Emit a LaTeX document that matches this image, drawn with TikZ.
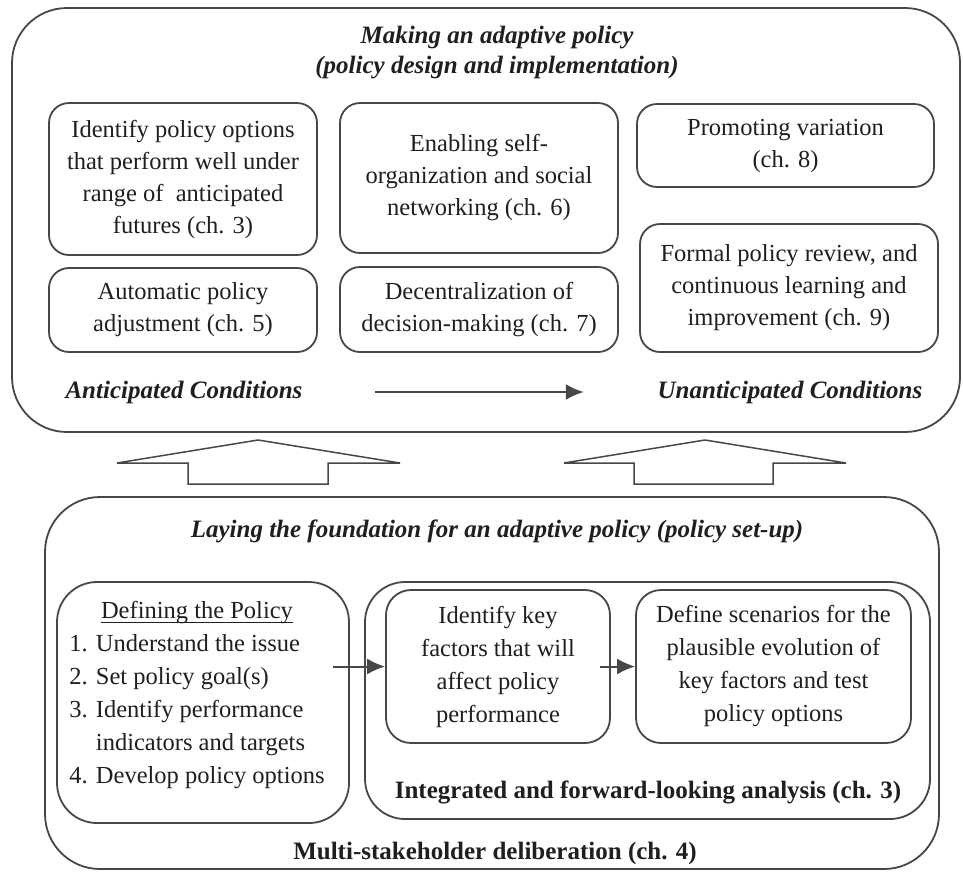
\documentclass[tikz,border=0pt]{standalone}
\usepackage{fontspec}
\setmainfont{Liberation Serif}
\usetikzlibrary{arrows.meta,calc}
\newcommand\bodyfont{\fontsize{24.5}{32}\selectfont}
\newcommand\keyfont{\fontsize{24.5}{33}\selectfont}
\newcommand\headfont{\fontsize{25}{30}\selectfont\bfseries\itshape}
\newcommand\labfont{\fontsize{25}{30}\selectfont\bfseries}
% underline with a heavier rule set a little below the baseline
\newcommand\heavyul[1]{\leavevmode\setbox0\hbox{#1}%
  \rlap{\rule[-5pt]{\wd0}{1.4pt}}\box0}
\begin{document}
\begin{tikzpicture}[x=1pt,y=-1pt,
  line width=1.8pt,
  ink/.style={draw=black!72},
  frame/.style={ink, rounded corners=#1, inner sep=0pt},
  pbox/.style={ink, rounded corners=20pt, align=center, inner sep=0pt,
    font=\bodyfont, text=black!88},
  kbox/.style={ink, rounded corners=25pt, align=center, inner sep=0pt,
    font=\keyfont, text=black!88},
  head/.style={font=\headfont, align=center, text=black!88, inner sep=0pt},
  lab/.style={font=\labfont, text=black!88, inner sep=0pt},
  arr/.style={ink, line width=2pt, -{Latex[length=18pt,width=16pt]}},
  blockarrow/.style={ink, fill=white, line width=1.5pt, line join=miter}
]
\useasboundingbox (0,0) rectangle (963,871);
\fill[white] (0,0) rectangle (963,871);

% ---- upper panel: policy design and implementation
\node[frame=55pt, minimum width=948pt, minimum height=424pt] (top) at (486,220) {};
\node[head] (toptitle) at (497,53) {Making an adaptive policy\\(policy design and implementation)};

\node[pbox, minimum width=268pt, minimum height=152pt] (ch3) at (183,179)
  {Identify policy options\\that perform well under\\range of\ \ anticipated\\futures (ch. 3)};
\node[pbox, minimum width=268pt, minimum height=84pt] (ch5) at (183,310)
  {Automatic policy\\adjustment (ch. 5)};
\node[pbox, minimum width=278pt, minimum height=150pt] (ch6) at (479,178)
  {Enabling self-\\organization and social\\networking (ch. 6)};
\node[pbox, minimum width=278pt, minimum height=85pt] (ch7) at (479,309.5)
  {Decentralization of\\decision-making (ch. 7)};
\node[pbox, minimum width=297pt, minimum height=83pt] (ch8) at (785.5,145.5)
  {Promoting variation\\(ch. 8)};
\node[pbox, minimum width=298pt, minimum height=128pt] (ch9) at (789,288)
  {Formal policy review, and\\continuous learning and\\improvement (ch. 9)};

\node[head] (antic) at (184,392) {Anticipated Conditions};
\node[head] (unantic) at (790,392) {Unanticipated Conditions};
\draw[arr] ($(antic.east)+(72,0)$) -- ($(unantic.west)+(-73,0)$);

% ---- hollow arrows from the set-up panel to the upper panel
\draw[blockarrow] (188,484) -- (188,463) -- (117,463) -- (258,440)
  -- (400,463) -- (328,463) -- (328,484) -- cycle;
\draw[blockarrow] (634,484) -- (634,463) -- (564,463) -- (705,440)
  -- (846,463) -- (773,463) -- (773,484) -- cycle;

% ---- lower panel: policy set-up
\node[frame=55pt, minimum width=894pt, minimum height=372pt] (bottom) at (492,683) {};
\node[head] (bottitle) at (497,531) {Laying the foundation for an adaptive policy (policy set-up)};

\node[frame=40pt, minimum width=292pt, minimum height=241pt] (defn) at (203,702.5) {};
\node[font=\keyfont, text=black!88, inner sep=0pt] (deftext) at (197,694)
  {\begin{tabular}{@{}l@{}}
   \multicolumn{1}{@{}c@{}}{\heavyul{Defining the Policy}}\\
   1. Understand the issue\\
   2. Set policy goal(s)\\
   3. Identify performance\\
   \phantom{3. }indicators and targets\\
   4. Develop policy options
   \end{tabular}};

\node[frame=40pt, minimum width=565pt, minimum height=237pt] (integ) at (647.5,700.5) {};
\node[kbox, minimum width=224pt, minimum height=153pt] (keyf) at (498,666.5)
  {Identify key\\factors that will\\affect policy\\performance};
\node[kbox, minimum width=275pt, minimum height=153pt] (scen) at (773.5,666.5)
  {Define scenarios for the\\plausible evolution of\\key factors and test\\policy options};
\node[lab] (integlab) at (648,792) {Integrated and forward-looking analysis (ch. 3)};
\node[lab] (multilab) at (495,853) {Multi-stakeholder deliberation (ch. 4)};

\draw[arr] ($(defn.east |- keyf.west)+(-17,0)$) -- (keyf.west);
\draw[arr] ($(keyf.east)+(-11,0)$) -- (scen.west);
\end{tikzpicture}
\end{document}
